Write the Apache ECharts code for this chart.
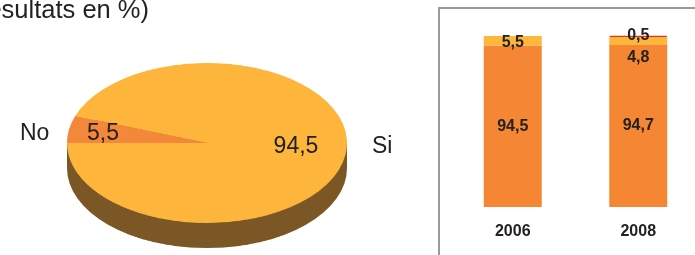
<!DOCTYPE html>
<html>
<head>
<meta charset="utf-8">
<script src="https://cdn.jsdelivr.net/npm/echarts@6/dist/echarts.min.js"></script>
<style>
  html, body { margin: 0; padding: 0; background: #fff; }
  #wrap { position: relative; width: 695px; height: 255px; overflow: hidden; }
  #pie { position: absolute; left: 67px; top: 63px; width: 280px; height: 324px;
         transform: scaleY(0.5714); transform-origin: 0 0; }
  #main { position: absolute; left: 0; top: 0; width: 695px; height: 255px; }
</style>
</head>
<body>
<div id="wrap">
  <div id="pie"></div>
  <div id="main"></div>
</div>
<script>
// pie: answers
var pieNames = ["No", "Si"];
var pieValues = [5.5, 94.5];

// stacked bars by year
var years = ["2006", "2008"];
var barSi = [94.5, 94.7];
var barNo = [5.5, 4.8];
var barNsp = [null, 0.5];

var FONT = "Liberation Sans, Arial, sans-serif";
var fmt = function (v) { return String(v).replace(".", ","); };

// --- 3D-looking pie, squashed with css ---
var pieChart = echarts.init(document.getElementById("pie"));
pieChart.setOption({
  animation: false,
  graphic: [{
    type: "rect", z: 1, silent: true,
    shape: { x: 0, y: 140, width: 280, height: 44 },
    style: { fill: "#7b5726" }
  }],
  series: [
    {
      type: "pie", z: 1, silent: true,
      center: [140, 184], radius: 140,
      label: { show: false }, labelLine: { show: false },
      itemStyle: { color: "#7b5726" },
      data: [{ value: 1 }]
    },
    {
      type: "pie", z: 3, silent: true,
      center: [140, 140], radius: 140,
      startAngle: 180, clockwise: true,
      label: { show: false }, labelLine: { show: false },
      data: pieNames.map(function (n, i) {
        return { name: n, value: pieValues[i],
                 itemStyle: { color: i === 0 ? "#f3883a" : "#fdb53b" } };
      })
    }
  ]
});

// --- main layer: texts + bar chart ---
var myChart = echarts.init(document.getElementById("main"));
var txt = function (x, y, text, align, size, weight) {
  return {
    type: "text", x: x, y: y, silent: true,
    style: { text: text, fill: "#222", font: (weight || "normal") + " " + size + "px " + FONT,
             align: align, verticalAlign: "middle" }
  };
};
var barLabel = {
  show: true, position: "inside", color: "#222", fontSize: 16, fontWeight: "bold",
  fontFamily: FONT, formatter: function (p) { return fmt(p.value); }
};

var option = {
  animation: false,
  backgroundColor: "transparent",
  graphic: [
    txt(149, 11, "(Résultats en %)", "right", 25.5),
    txt(20, 134, pieNames[0], "left", 23),
    txt(103, 134, fmt(pieValues[0]), "center", 23),
    txt(296, 147, fmt(pieValues[1]), "center", 23),
    txt(372, 147, pieNames[1], "left", 23),
    {
      type: "rect", silent: true, z: 0,
      shape: { x: 439, y: 8, width: 400, height: 400 },
      style: { fill: "none", stroke: "#9a9a9a", lineWidth: 2 }
    }
  ],
  grid: { left: 450, width: 251, top: 36, bottom: 48, containLabel: false, outerBoundsMode: "none" },
  xAxis: {
    type: "category",
    data: years,
    axisLine: { show: false },
    axisTick: { show: false },
    axisLabel: { margin: 17, color: "#222", fontSize: 16, fontWeight: "bold", fontFamily: FONT }
  },
  yAxis: { type: "value", min: 0, max: 100, show: false, splitLine: { show: false } },
  series: [
    {
      name: "Si", type: "bar", stack: "a", barWidth: 58,
      itemStyle: { color: "#f48634" },
      label: barLabel,
      data: barSi
    },
    {
      name: "No", type: "bar", stack: "a", barWidth: 58,
      itemStyle: { color: "#fdb73b" },
      label: barLabel,
      data: barNo.map(function (v, i) {
        return { value: v, label: { offset: [0, i === 0 ? 2 : 16.5] } };
      })
    },
    {
      name: "NSP", type: "bar", stack: "a", barWidth: 58, z: 3,
      itemStyle: { color: "#e8302a", borderColor: "#e8302a", borderWidth: 1.2 },
      label: Object.assign({}, barLabel, { offset: [0, -1] }),
      data: barNsp
    }
  ]
};
option && myChart.setOption(option);
</script>
</body>
</html>
